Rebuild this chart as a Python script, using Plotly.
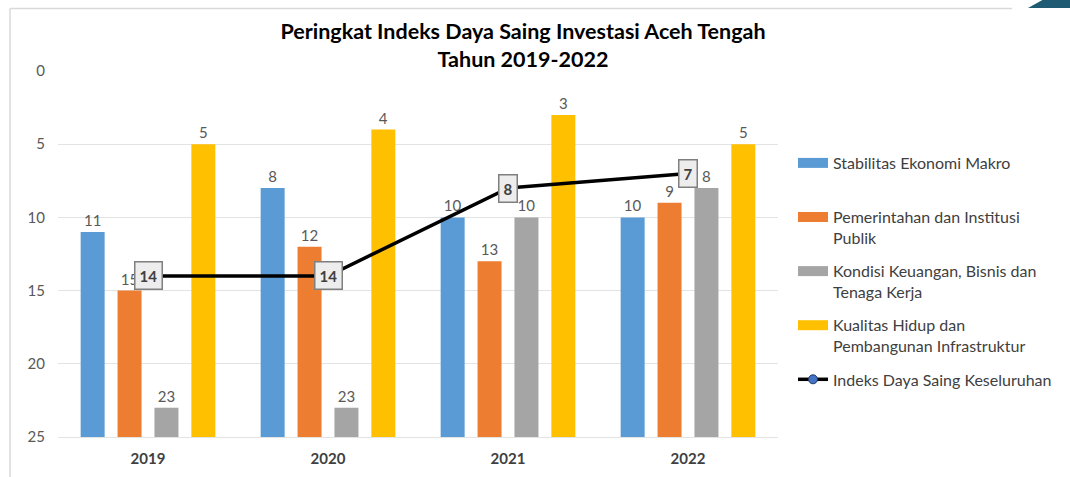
import plotly.graph_objects as go

years = ["2019", "2020", "2021", "2022"]
stabilitas = [11, 8, 10, 10]
pemerintahan = [15, 12, 13, 9]
kondisi = [23, 23, 10, 8]
kualitas = [5, 4, 3, 5]
keseluruhan = [14, 14, 8, 7]

series_names = [
    "Stabilitas Ekonomi Makro<br>&nbsp;",
    "Pemerintahan dan Institusi<br>Publik",
    "Kondisi Keuangan, Bisnis dan<br>Tenaga Kerja",
    "Kualitas Hidup dan<br>Pembangunan Infrastruktur",
]
line_name = "Indeks Daya Saing Keseluruhan"
colors = ["#5B9BD5", "#ED7D31", "#A5A5A5", "#FFC000"]
BASE = 25

W, H = 1070, 477
L, R, T, B = 58, 292, 71, 40
pw, ph = W - L - R, H - T - B

def px_x(x):
    return (x - L) / pw

def px_y(y):
    return (H - B - y) / ph

FONT = "Lato"
fig = go.Figure()

for i, (name, vals) in enumerate(zip(series_names, [stabilitas, pemerintahan, kondisi, kualitas])):
    fig.add_trace(go.Bar(
        x=years,
        y=[v - BASE for v in vals],
        base=BASE,
        name=name,
        marker=dict(color=colors[i], line=dict(width=0)),
        text=[str(v) for v in vals],
        texttemplate="%{text}",
        textposition="outside",
        textfont=dict(family=FONT, size=15, color="#595959"),
        cliponaxis=False,
        legendgroup=f"g{i}",
        showlegend=False,
        hoverinfo="skip",
    ))
    # legend entry with a wide rectangular swatch
    fig.add_trace(go.Scatter(
        x=[None], y=[None], mode="lines", name=name,
        line=dict(color=colors[i], width=10),
        legendgroup=f"g{i}", showlegend=True, hoverinfo="skip",
    ))

fig.add_trace(go.Scatter(
    x=years,
    y=keseluruhan,
    mode="lines+markers",
    name=line_name,
    line=dict(color="black", width=3.5),
    marker=dict(size=9, color="#4472C4", line=dict(color="#1F3864", width=1)),
    legendgroup="g4",
    cliponaxis=False,
    hoverinfo="skip",
))

for idx, v in enumerate(keseluruhan):
    fig.add_annotation(
        x=idx, y=v, text=f"<b>{v}</b>", showarrow=False,
        font=dict(family=FONT, size=15, color="#404040"),
        bgcolor="#EDEDED", bordercolor="#7F7F7F", borderwidth=1.5, borderpad=4,
    )

# card border and corner decoration
fig.add_shape(type="line", xref="paper", yref="paper",
              x0=px_x(10), x1=px_x(1012), y0=px_y(8.5), y1=px_y(8.5),
              line=dict(color="#D9D9D9", width=1.5))
fig.add_shape(type="line", xref="paper", yref="paper",
              x0=px_x(10), x1=px_x(10), y0=px_y(8.5), y1=px_y(477),
              line=dict(color="#D9D9D9", width=1.5))
fig.add_shape(type="path", xref="paper", yref="paper",
              path=f"M {px_x(1028)} {px_y(8)} L {px_x(1046)} {px_y(-2)} L {px_x(1072)} {px_y(-2)} L {px_x(1072)} {px_y(8)} Z",
              fillcolor="#1F5C73", line=dict(width=0))

fig.update_layout(
    width=W, height=H,
    margin=dict(l=L, r=R, t=T, b=B, autoexpand=False),
    paper_bgcolor="white", plot_bgcolor="white",
    barmode="group", bargap=0.18, bargroupgap=0.35,
    title=dict(
        text="<b>Peringkat Indeks Daya Saing Investasi Aceh Tengah<br>Tahun 2019-2022</b>",
        x=523 / W, xanchor="center", xref="container",
        y=1 - 39 / H, yanchor="top", yref="container",
        font=dict(family=FONT, size=21.5, color="#000000"),
    ),
    yaxis=dict(
        range=[25, 0], tickvals=[0, 5, 10, 15, 20, 25],
        showgrid=True, gridcolor="#E3E3E3", gridwidth=1,
        zeroline=False, showline=False,
        tickfont=dict(family=FONT, size=15, color="#595959"),
        ticks="", ticklabelstandoff=12,
    ),
    xaxis=dict(
        type="category", range=[-0.5, 3.5], autorange=False,
        showline=True, linecolor="#E3E3E3", linewidth=1,
        tickfont=dict(family=FONT, size=15, color="#404040", weight="bold"),
        ticks="", ticklabelstandoff=8,
    ),
    legend=dict(
        x=px_x(793), y=px_y(146), xanchor="left", yanchor="top",
        xref="paper", yref="paper",
        font=dict(family=FONT, size=16, color="#404040"),
        traceorder="grouped", tracegroupgap=9.5, valign="top",
        itemwidth=30, bgcolor="rgba(0,0,0,0)",
    ),
    showlegend=True,
)

fig.write_html("out.html", post_script="document.body.style.margin='0';",
               config={"displayModeBar": False})
